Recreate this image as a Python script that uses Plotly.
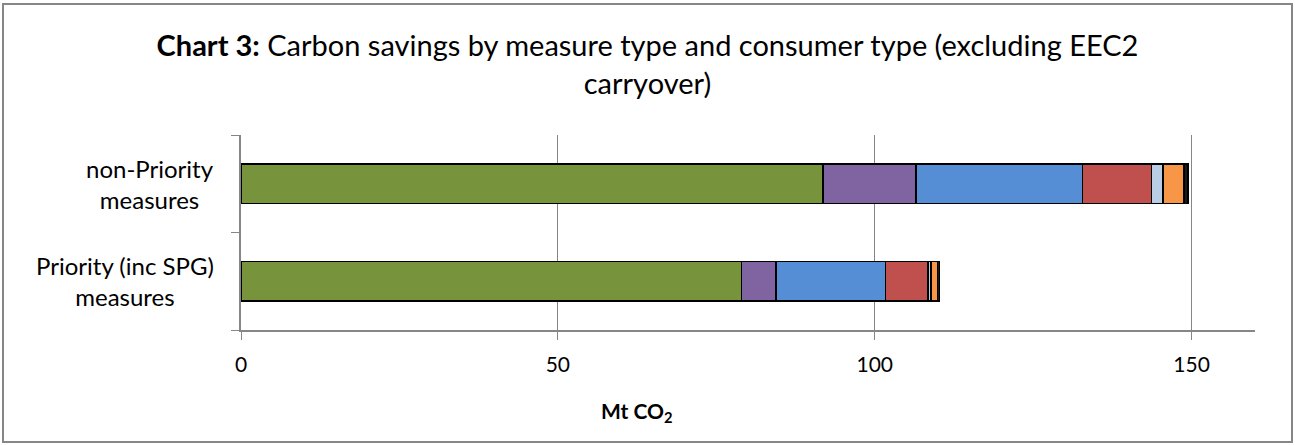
import plotly.graph_objects as go

categories = ["Priority (inc SPG) measures", "non-Priority measures"]
category_labels = ["Priority (inc SPG)<br>measures", "non-Priority<br>measures"]
series_names = ["Insulation", "Heating", "Lighting", "Appliances", "Microgeneration", "Behavioural", "Other"]
series_colors = ["#77933C", "#8064A2", "#558ED5", "#C0504D", "#B9CDE5", "#F79646", "#1A1A1A"]
values_priority = [79.0, 5.4, 17.3, 6.7, 0.5, 1.0, 0.3]
values_nonpriority = [91.8, 14.7, 26.3, 10.9, 1.8, 3.3, 0.6]
x_ticks = [0, 50, 100, 150]

FONT = "Lato"
fig = go.Figure()
for i, name in enumerate(series_names):
    fig.add_trace(go.Bar(
        y=categories,
        x=[values_priority[i], values_nonpriority[i]],
        name=name,
        orientation="h",
        marker=dict(color=series_colors[i], line=dict(color="#000000", width=1.5)),
        width=0.41,
    ))

L, R, T, B = 241, 40, 135, 115
W, H = 1295, 445
pw = W - L - R
ph = H - T - B

annotations = [dict(
    text="<b>Mt CO<sub>2</sub></b>",
    xref="paper", yref="paper",
    x=(637 - L) / pw, y=(H - B - 412) / ph,
    xanchor="center", yanchor="middle",
    showarrow=False,
    font=dict(family=FONT, size=21, color="#000000"),
)]
for cat, lab in zip(categories, category_labels):
    annotations.append(dict(
        text=lab, xref="paper", yref="y",
        x=(216 - L) / pw, y=cat,
        xanchor="right", yanchor="middle", align="center",
        showarrow=False,
        font=dict(family=FONT, size=24, color="#000000"),
    ))

fig.update_layout(
    barmode="stack",
    width=W, height=H,
    margin=dict(l=L, r=R, t=T, b=B, autoexpand=False),
    paper_bgcolor="white",
    plot_bgcolor="white",
    showlegend=False,
    font=dict(family=FONT, color="#000000", size=18),
    title=dict(
        text="<b>Chart 3:</b> Carbon savings by measure type and consumer type (excluding EEC2<br>carryover)",
        x=0.5, xanchor="center", y=1 - 56 / H, yanchor="top",
        font=dict(family=FONT, size=29, color="#000000"),
    ),
    xaxis=dict(
        range=[0, 160],
        tickvals=x_ticks,
        ticktext=[str(v) for v in x_ticks],
        showgrid=True, gridcolor="#868686", gridwidth=1,
        zeroline=False,
        showline=True, linecolor="#868686", linewidth=1.5,
        ticks="outside", ticklen=8, tickcolor="#868686",
        ticklabelstandoff=7,
        automargin=False,
        tickfont=dict(family=FONT, size=21, color="#000000"),
    ),
    yaxis=dict(
        showgrid=False, zeroline=False,
        showline=True, linecolor="#868686", linewidth=1.5,
        ticks="outside", ticklen=8, tickcolor="#868686",
        tickson="boundaries",
        showticklabels=False,
        automargin=False,
    ),
    annotations=annotations,
    shapes=[dict(
        type="rect", xref="paper", yref="paper",
        x0=(3 - L) / pw, x1=(1292 - L) / pw,
        y0=(H - B - 442) / ph, y1=(H - B - 4) / ph,
        line=dict(color="#868686", width=2),
        fillcolor="rgba(0,0,0,0)",
        layer="below",
    )],
)

fig.write_html(
    "out.html",
    config={"displayModeBar": False},
    post_script="document.body.style.margin='0px';document.body.style.padding='0px';",
)
